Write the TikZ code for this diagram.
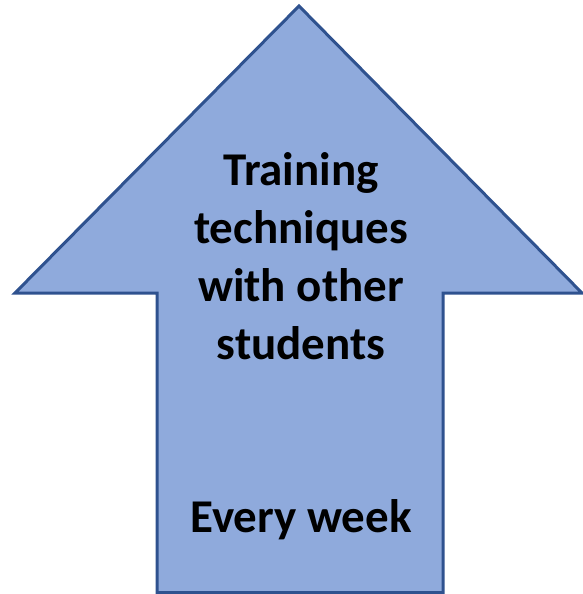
\documentclass[tikz,border=0pt]{standalone}
\usepackage{fontspec}
\setmainfont{Carlito}
\definecolor{arrowfill}{HTML}{8FAADC}
\definecolor{arrowline}{HTML}{2F528F}
\begin{document}
\begin{tikzpicture}[x=1pt,y=-1pt,
  bigarrow/.style={fill=arrowfill,draw=arrowline,line width=3pt,line join=miter},
  txt/.style={anchor=base,inner sep=0pt,font=\fontsize{47}{58}\selectfont\bfseries}]
\useasboundingbox (0,0) rectangle (583,594);
\draw[bigarrow] (299,6) -- (582,293) -- (443,293) -- (443,592.5) -- (157,592.5) -- (157,293) -- (15,293) -- cycle;
\node[txt] (l1) at (301,185) {Training};
\node[txt] (l2) at (301,243) {techniques};
\node[txt] (l3) at (301,301) {with other};
\node[txt] (l4) at (301,359) {students};
\node[txt] (l5) at (301,532) {Every week};
\end{tikzpicture}
\end{document}
